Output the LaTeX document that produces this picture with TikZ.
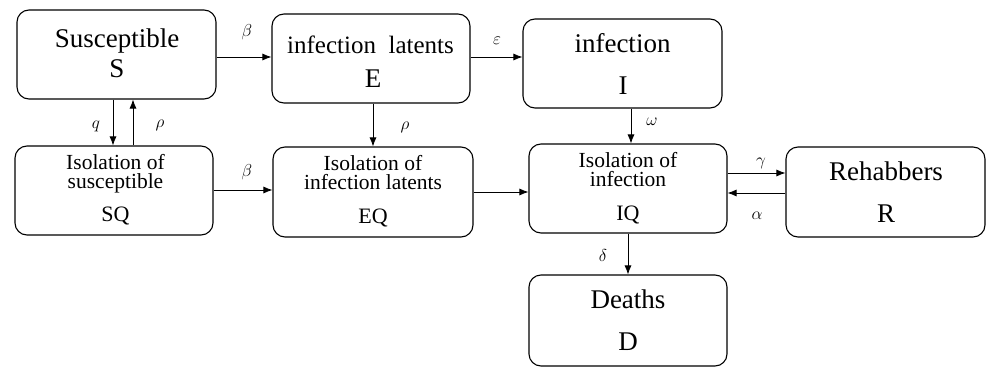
\documentclass[tikz,border=0pt]{standalone}
\usepackage{fontspec}
\setmainfont{Liberation Serif}
\usetikzlibrary{arrows.meta}
\begin{document}
\begin{tikzpicture}[x=1pt,y=-1pt,
  box/.style={draw,line width=1.1pt,rounded corners=12pt,inner sep=0pt},
  big/.style={anchor=base,inner sep=0pt,font=\fontsize{27}{27}\selectfont},
  mid/.style={anchor=base,inner sep=0pt,font=\fontsize{22}{22}\selectfont},
  two/.style={anchor=base,inner sep=0pt,align=center,font=\fontsize{21.5}{19}\selectfont},
  lab/.style={inner sep=0pt,font=\fontsize{17}{17}\selectfont},
  arr/.style={line width=0.8pt,-{Latex[length=9pt,width=7pt]}}]
\useasboundingbox (0,0) rectangle (986,367);
% boxes
\node[box,minimum width=199pt,minimum height=89pt] (S) at (116.5,54.5) {};
\node[box,minimum width=198pt,minimum height=89pt] (E) at (371,58.5) {};
\node[box,minimum width=199pt,minimum height=89pt] (I) at (622.5,63.5) {};
\node[box,minimum width=198pt,minimum height=89pt] (SQ) at (114,190.5) {};
\node[box,minimum width=200pt,minimum height=90pt] (EQ) at (373,192) {};
\node[box,minimum width=198pt,minimum height=89pt] (IQ) at (628,188.5) {};
\node[box,minimum width=199pt,minimum height=90pt] (R) at (885.5,192) {};
\node[box,minimum width=198pt,minimum height=91pt] (D) at (628,320.5) {};
% texts
\node[big] (St1) at (117,47) {Susceptible};
\node[big] (St2) at (117,77) {S};
\node[big,font=\fontsize{25}{25}\selectfont] (Et1) at (370.5,53) {infection\ \ latents};
\node[big] (Et2) at (373,87) {E};
\node[big] (It1) at (622.5,52) {infection};
\node[big] (It2) at (623,94) {I};
\node[two] (SQt1) at (115.5,188) {Isolation of\\susceptible};
\node[mid] (SQt3) at (115.5,221) {SQ};
\node[two] (EQt1) at (373,189) {Isolation of\\infection latents};
\node[mid] (EQt3) at (373,223) {EQ};
\node[two] (IQt1) at (628,186) {Isolation of\\infection};
\node[mid] (IQt3) at (628,220) {IQ};
\node[big] (Rt1) at (886,180) {Rehabbers};
\node[big] (Rt2) at (886,222) {R};
\node[big] (Dt1) at (628,308) {Deaths};
\node[big] (Dt2) at (628,350) {D};
% arrows
\draw[arr] (S.east |- 0,57) -- (E.west |- 0,57);
\draw[arr] (E.east |- 0,57) -- (I.west |- 0,57);
\draw[arr] (S.south -| 113,0) -- (SQ.north -| 113,0);
\draw[arr] (SQ.north -| 133,0) -- (S.south -| 133,0);
\draw[arr] (E.south -| 373,0) -- (EQ.north -| 373,0);
\draw[arr] (SQ.east |- 0,190) -- (EQ.west |- 0,190);
\draw[arr] (EQ.east |- 0,192) -- (IQ.west |- 0,192);
\draw[arr] (I.south -| 631,0) -- (IQ.north -| 631,0);
\draw[arr] (IQ.east |- 0,173) -- (R.west |- 0,173);
\draw[arr] (R.west |- 0,193) -- (IQ.east |- 0,193);
\draw[arr] (IQ.south -| 628,0) -- (D.north -| 628,0);
% labels
\node[lab] (l1) at (247,32) {$\beta$};
\node[lab] (l2) at (497,41) {$\varepsilon$};
\node[lab] (l3) at (96,126) {$q$};
\node[lab] (l4) at (160,125) {$\rho$};
\node[lab] (l5) at (405,127) {$\rho$};
\node[lab] (l6) at (247,172) {$\beta$};
\node[lab] (l7) at (652,122) {$\omega$};
\node[lab] (l8) at (761,163) {$\gamma$};
\node[lab] (l9) at (757,216) {$\alpha$};
\node[lab] (l10) at (603,255) {$\delta$};
\end{tikzpicture}
\end{document}
